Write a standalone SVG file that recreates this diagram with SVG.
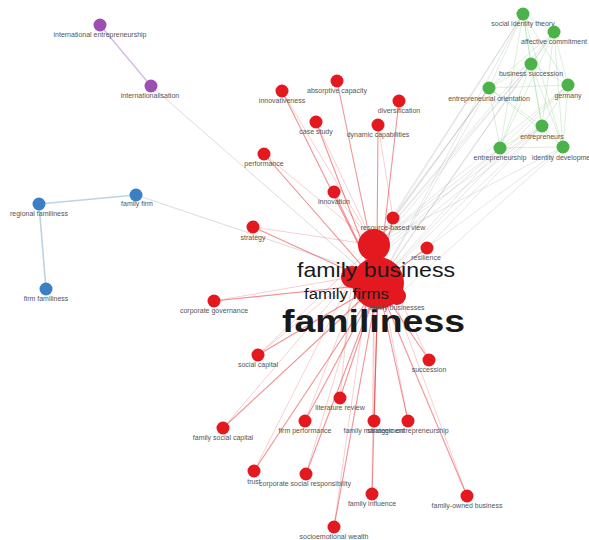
<svg xmlns="http://www.w3.org/2000/svg" width="589" height="540" viewBox="0 0 589 540">
<style>
.bg{fill:#fff}
.r{fill:#e4191f}
.g{fill:#4bb34a}
.b{fill:#3b7fc4}
.p{fill:#9c4fb2}
.lbl{font-family:"Liberation Sans",Arial,sans-serif;font-size:7px;fill:#555;text-anchor:middle}
.big{font-family:"Liberation Sans",Arial,sans-serif;fill:#1a1a1a}
.er{stroke:#e3262b;stroke-opacity:.5;stroke-width:1.1;fill:none}
.er2{stroke:#e3262b;stroke-opacity:.28;stroke-width:.8;fill:none}
.eg{stroke:#7cc47c;stroke-opacity:.45;stroke-width:.6;fill:none}
.ey{stroke:#999;stroke-opacity:.35;stroke-width:.7;fill:none}
.eb{stroke:#bcd2e8;stroke-width:1.6;fill:none}
.ep{stroke:#d4b6df;stroke-width:1.2;fill:none}
.el{stroke:#ccc;stroke-opacity:.7;stroke-width:1;fill:none}
</style>
<rect class="bg" x="0" y="0" width="589" height="540"/>
<g id="edges">
<!-- purple / blue -->
<line class="ep" x1="100" y1="25" x2="151" y2="86"/>
<line class="el" x1="151" y1="86" x2="378" y2="284"/>
<line class="eb" x1="39" y1="204" x2="136" y2="195"/>
<line class="eb" x1="39" y1="204" x2="46" y2="289"/>
<line class="el" x1="136" y1="195" x2="365" y2="272"/>
<!-- red to familiness -->
<line class="er" x1="282" y1="91" x2="378" y2="284"/>
<line class="er" x1="337" y1="81" x2="370" y2="240"/>
<line class="er" x1="399" y1="101" x2="382" y2="250"/>
<line class="er" x1="316" y1="122" x2="378" y2="284"/>
<line class="er" x1="378" y1="125" x2="377" y2="250"/>
<line class="er" x1="264" y1="154" x2="378" y2="284"/>
<line class="er" x1="334" y1="192" x2="378" y2="284"/>
<line class="er" x1="253" y1="227" x2="378" y2="284"/>
<line class="er" x1="393" y1="218" x2="378" y2="284"/>
<line class="er" x1="427" y1="248" x2="378" y2="284"/>
<line class="er" x1="214" y1="301" x2="378" y2="284"/>
<line class="er" x1="258" y1="355" x2="378" y2="284"/>
<line class="er" x1="429" y1="360" x2="378" y2="284"/>
<line class="er" x1="340" y1="398" x2="378" y2="284"/>
<line class="er" x1="305" y1="421" x2="378" y2="284"/>
<line class="er" x1="374" y1="421" x2="378" y2="284"/>
<line class="er" x1="408" y1="421" x2="378" y2="284"/>
<line class="er" x1="223" y1="428" x2="378" y2="284"/>
<line class="er" x1="254" y1="471" x2="378" y2="284"/>
<line class="er" x1="306" y1="474" x2="378" y2="284"/>
<line class="er" x1="372" y1="494" x2="378" y2="284"/>
<line class="er" x1="467" y1="496" x2="378" y2="284"/>
<line class="er" x1="334" y1="527" x2="378" y2="284"/>
<!-- red secondary to family business / family firms -->
<line class="er2" x1="282" y1="91" x2="374" y2="245"/>
<line class="er2" x1="316" y1="122" x2="374" y2="245"/>
<line class="er2" x1="378" y1="125" x2="393" y2="218"/>
<line class="er2" x1="264" y1="154" x2="374" y2="245"/>
<line class="er2" x1="334" y1="192" x2="374" y2="245"/>
<line class="er2" x1="253" y1="227" x2="374" y2="245"/>
<line class="er2" x1="214" y1="301" x2="352" y2="277"/>
<line class="er2" x1="258" y1="355" x2="352" y2="277"/>
<line class="er2" x1="258" y1="355" x2="374" y2="245"/>
<line class="er2" x1="223" y1="428" x2="352" y2="277"/>
<line class="er2" x1="305" y1="421" x2="374" y2="245"/>
<line class="er2" x1="306" y1="474" x2="374" y2="245"/>
<line class="er2" x1="340" y1="398" x2="352" y2="277"/>
<line class="er2" x1="254" y1="471" x2="352" y2="277"/>
<line class="er2" x1="374" y1="421" x2="374" y2="245"/>
<line class="er2" x1="408" y1="421" x2="374" y2="245"/>
<line class="er2" x1="429" y1="360" x2="374" y2="245"/>
<line class="er2" x1="467" y1="496" x2="374" y2="245"/>
<line class="er2" x1="334" y1="527" x2="374" y2="245"/>
<line class="er2" x1="372" y1="494" x2="374" y2="245"/>
<!-- green internal -->
<line class="eg" x1="523" y1="14" x2="554" y2="32"/>
<line class="eg" x1="523" y1="14" x2="531" y2="64"/>
<line class="eg" x1="523" y1="14" x2="489" y2="88"/>
<line class="eg" x1="523" y1="14" x2="568" y2="85"/>
<line class="eg" x1="523" y1="14" x2="542" y2="126"/>
<line class="eg" x1="523" y1="14" x2="500" y2="148"/>
<line class="eg" x1="523" y1="14" x2="563" y2="147"/>
<line class="eg" x1="554" y1="32" x2="531" y2="64"/>
<line class="eg" x1="554" y1="32" x2="489" y2="88"/>
<line class="eg" x1="554" y1="32" x2="568" y2="85"/>
<line class="eg" x1="554" y1="32" x2="542" y2="126"/>
<line class="eg" x1="554" y1="32" x2="500" y2="148"/>
<line class="eg" x1="554" y1="32" x2="563" y2="147"/>
<line class="eg" x1="531" y1="64" x2="489" y2="88"/>
<line class="eg" x1="531" y1="64" x2="568" y2="85"/>
<line class="eg" x1="531" y1="64" x2="542" y2="126"/>
<line class="eg" x1="531" y1="64" x2="500" y2="148"/>
<line class="eg" x1="531" y1="64" x2="563" y2="147"/>
<line class="eg" x1="489" y1="88" x2="568" y2="85"/>
<line class="eg" x1="489" y1="88" x2="542" y2="126"/>
<line class="eg" x1="489" y1="88" x2="500" y2="148"/>
<line class="eg" x1="489" y1="88" x2="563" y2="147"/>
<line class="eg" x1="568" y1="85" x2="542" y2="126"/>
<line class="eg" x1="568" y1="85" x2="500" y2="148"/>
<line class="eg" x1="568" y1="85" x2="563" y2="147"/>
<line class="eg" x1="542" y1="126" x2="500" y2="148"/>
<line class="eg" x1="542" y1="126" x2="563" y2="147"/>
<line class="eg" x1="500" y1="148" x2="563" y2="147"/>
<!-- green to centre (gray) -->
<line class="ey" x1="523" y1="14" x2="374" y2="245"/>
<line class="ey" x1="523" y1="14" x2="378" y2="284"/>
<line class="ey" x1="554" y1="32" x2="374" y2="245"/>
<line class="ey" x1="554" y1="32" x2="378" y2="284"/>
<line class="ey" x1="531" y1="64" x2="374" y2="245"/>
<line class="ey" x1="531" y1="64" x2="378" y2="284"/>
<line class="ey" x1="531" y1="64" x2="352" y2="277"/>
<line class="ey" x1="489" y1="88" x2="374" y2="245"/>
<line class="ey" x1="489" y1="88" x2="378" y2="284"/>
<line class="ey" x1="489" y1="88" x2="352" y2="277"/>
<line class="ey" x1="568" y1="85" x2="374" y2="245"/>
<line class="ey" x1="568" y1="85" x2="378" y2="284"/>
<line class="ey" x1="542" y1="126" x2="374" y2="245"/>
<line class="ey" x1="542" y1="126" x2="378" y2="284"/>
<line class="ey" x1="542" y1="126" x2="352" y2="277"/>
<line class="ey" x1="500" y1="148" x2="374" y2="245"/>
<line class="ey" x1="500" y1="148" x2="378" y2="284"/>
<line class="ey" x1="500" y1="148" x2="352" y2="277"/>
<line class="ey" x1="563" y1="147" x2="374" y2="245"/>
<line class="ey" x1="563" y1="147" x2="378" y2="284"/>
<line class="ey" x1="563" y1="147" x2="396" y2="297"/>
<line class="ey" x1="523" y1="14" x2="393" y2="218"/>
<line class="ey" x1="489" y1="88" x2="393" y2="218"/>
<line class="ey" x1="542" y1="126" x2="427" y2="248"/>
</g>
<g id="node-international-entrepreneurship"><circle class="p" cx="100" cy="25" r="6.5"/><text class="lbl" x="100" y="37">international entrepreneurship</text></g>
<g id="node-internationalisation"><circle class="p" cx="151" cy="86" r="6.5"/><text class="lbl" x="150" y="97.5">internationalisation</text></g>
<g id="node-regional-familiness"><circle class="b" cx="39" cy="204" r="6.5"/><text class="lbl" x="39" y="215.5">regional familiness</text></g>
<g id="node-family-firm"><circle class="b" cx="136" cy="195" r="6.5"/><text class="lbl" x="137" y="205.5">family firm</text></g>
<g id="node-firm-familiness"><circle class="b" cx="46" cy="289" r="6.5"/><text class="lbl" x="46" y="301">firm familiness</text></g>
<g id="node-social-identity-theory"><circle class="g" cx="523" cy="14" r="6.5"/><text class="lbl" x="523" y="25.5">social identity theory</text></g>
<g id="node-affective-commitment"><circle class="g" cx="554" cy="32" r="6.5"/><text class="lbl" x="554" y="43.5">affective commitment</text></g>
<g id="node-business-succession"><circle class="g" cx="531" cy="64" r="6.5"/><text class="lbl" x="531" y="75.5">business succession</text></g>
<g id="node-entrepreneurial-orientation"><circle class="g" cx="489" cy="88" r="6.5"/><text class="lbl" x="489" y="100.5">entrepreneurial orientation</text></g>
<g id="node-germany"><circle class="g" cx="568" cy="85" r="6.5"/><text class="lbl" x="568" y="97.5">germany</text></g>
<g id="node-entrepreneurs"><circle class="g" cx="542" cy="126" r="6.5"/><text class="lbl" x="542" y="139">entrepreneurs</text></g>
<g id="node-entrepreneurship"><circle class="g" cx="500" cy="148" r="6.5"/><text class="lbl" x="500" y="159.5">entrepreneurship</text></g>
<g id="node-identity-development"><circle class="g" cx="563" cy="147" r="6.5"/><text class="lbl" x="564" y="159.5">identity development</text></g>
<g id="node-innovativeness"><circle class="r" cx="282" cy="91" r="6.5"/><text class="lbl" x="282" y="102.5">innovativeness</text></g>
<g id="node-absorptive-capacity"><circle class="r" cx="337" cy="81" r="6.5"/><text class="lbl" x="337" y="92.5">absorptive capacity</text></g>
<g id="node-diversification"><circle class="r" cx="399" cy="101" r="6.5"/><text class="lbl" x="399" y="112.5">diversification</text></g>
<g id="node-case-study"><circle class="r" cx="316" cy="122" r="6.5"/><text class="lbl" x="316" y="133.5">case study</text></g>
<g id="node-dynamic-capabilities"><circle class="r" cx="378" cy="125" r="6.5"/><text class="lbl" x="378" y="137">dynamic capabilities</text></g>
<g id="node-performance"><circle class="r" cx="264" cy="154" r="6.5"/><text class="lbl" x="264" y="165.5">performance</text></g>
<g id="node-innovation"><circle class="r" cx="334" cy="192" r="6.5"/><text class="lbl" x="334" y="204">innovation</text></g>
<g id="node-strategy"><circle class="r" cx="253" cy="227" r="6.5"/><text class="lbl" x="253" y="239.5">strategy</text></g>
<g id="node-resource-based-view"><circle class="r" cx="393" cy="218" r="6.5"/><text class="lbl" x="393" y="229.5">resource-based view</text></g>
<g id="node-resilience"><circle class="r" cx="427" cy="248" r="6.5"/><text class="lbl" x="426" y="259.5">resilience</text></g>
<g id="node-corporate-governance"><circle class="r" cx="214" cy="301" r="6.5"/><text class="lbl" x="214" y="312.5">corporate governance</text></g>
<g id="node-social-capital"><circle class="r" cx="258" cy="355" r="6.5"/><text class="lbl" x="258" y="366.5">social capital</text></g>
<g id="node-succession"><circle class="r" cx="429" cy="360" r="6.5"/><text class="lbl" x="429" y="371.5">succession</text></g>
<g id="node-literature-review"><circle class="r" cx="340" cy="398" r="6.5"/><text class="lbl" x="340" y="409.5">literature review</text></g>
<g id="node-firm-performance"><circle class="r" cx="305" cy="421" r="6.5"/><text class="lbl" x="305" y="432.5">firm performance</text></g>
<g id="node-family-management"><circle class="r" cx="374" cy="421" r="6.5"/><text class="lbl" x="374" y="432.5">family management</text></g>
<g id="node-strategic-entrepreneurship"><circle class="r" cx="408" cy="421" r="6.5"/><text class="lbl" x="408" y="432.5">strategic entrepreneurship</text></g>
<g id="node-family-social-capital"><circle class="r" cx="223" cy="428" r="6.5"/><text class="lbl" x="223" y="439.5">family social capital</text></g>
<g id="node-trust"><circle class="r" cx="254" cy="471" r="6.5"/><text class="lbl" x="254" y="483.5">trust</text></g>
<g id="node-corporate-social-responsibility"><circle class="r" cx="306" cy="474" r="6.5"/><text class="lbl" x="305" y="485.5">corporate social responsibility</text></g>
<g id="node-family-influence"><circle class="r" cx="372" cy="494" r="6.5"/><text class="lbl" x="372" y="505.5">family influence</text></g>
<g id="node-family-owned-business"><circle class="r" cx="467" cy="496" r="6.5"/><text class="lbl" x="467" y="507.5">family-owned business</text></g>
<g id="node-socioemotional-wealth"><circle class="r" cx="334" cy="527" r="6.5"/><text class="lbl" x="334" y="538.5">socioemotional wealth</text></g>
<g id="node-familiness"><circle class="r" cx="378" cy="283" r="26"/><text class="big" x="282" y="332" font-size="32" font-weight="bold" textLength="183" lengthAdjust="spacingAndGlyphs">familiness</text></g>
<g id="node-family-businesses"><circle class="r" cx="397" cy="296" r="9"/><text class="lbl" x="397" y="309.5">family businesses</text></g>
<g id="node-family-firms"><circle class="r" cx="352" cy="277" r="11"/><text class="big" x="304" y="299" font-size="15.5" fill="#333" textLength="85" lengthAdjust="spacingAndGlyphs">family firms</text></g>
<g id="node-family-business"><circle class="r" cx="374" cy="245" r="16"/><text class="big" x="297" y="277" font-size="21" fill="#222" textLength="158" lengthAdjust="spacingAndGlyphs">family business</text></g>
</svg>
